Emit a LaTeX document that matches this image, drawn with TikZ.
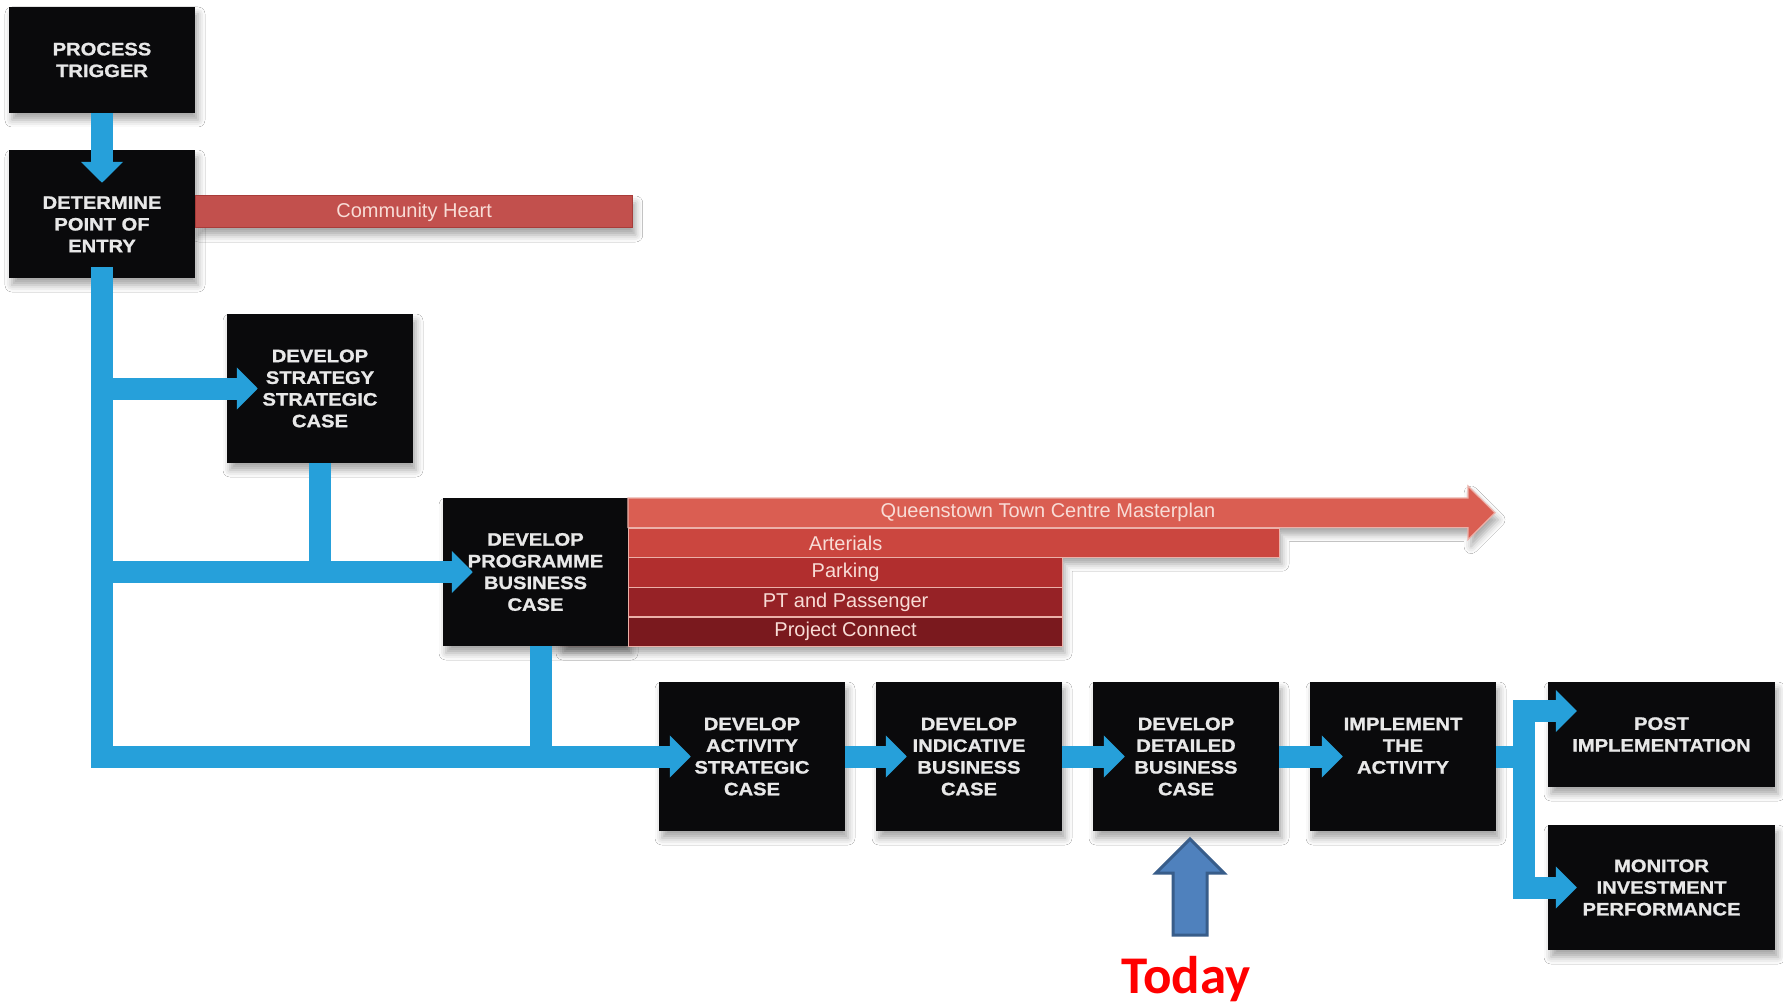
\documentclass[tikz,border=0pt]{standalone}
\usepackage{fontspec}
\setmainfont{Liberation Sans}
\newfontfamily\stagefont{Liberation Sans}[UprightFont={* Bold}, FakeStretch=1.12, FakeBold=1.2]
\newfontfamily\todayfont{Carlito}
\usetikzlibrary{arrows.meta,calc,shadows.blur}

\definecolor{flow}{RGB}{38,160,218}
\definecolor{boxfill}{RGB}{10,10,12}
\definecolor{boxtext}{RGB}{232,232,232}
\definecolor{heart}{RGB}{194,80,77}
\definecolor{heartedge}{RGB}{168,60,58}
\definecolor{qtc}{RGB}{218,94,82}
\definecolor{art}{RGB}{203,70,63}
\definecolor{park}{RGB}{177,46,46}
\definecolor{ptp}{RGB}{150,34,38}
\definecolor{pconn}{RGB}{122,25,30}
\definecolor{barsep}{RGB}{236,176,168}
\definecolor{bartext}{RGB}{248,220,214}
\definecolor{todayfill}{RGB}{79,129,189}
\definecolor{todayline}{RGB}{56,93,138}

\tikzset{
  softshadow/.style={blur shadow={shadow xshift=3pt, shadow yshift=-7pt,
      shadow blur radius=7pt, shadow opacity=35}},
  stage/.style={fill=boxfill, inner sep=0pt, align=center, text=boxtext,
      minimum width=186pt, minimum height=149pt, softshadow,
      font=\stagefont\fontsize{18}{21.7}\selectfont},
  flowline/.style={draw=flow, line width=22pt, line join=miter},
  flowarrow/.style={flowline, -{Triangle[width=41pt,length=21pt]}},
  bar/.style={inner sep=0pt, anchor=north west, minimum height=29.6pt,
      draw=barsep, line width=1.2pt},
  bartxt/.style={text=bartext, inner sep=0pt, font=\fontsize{20}{24}\selectfont},
}

\begin{document}
\begin{tikzpicture}[x=1pt, y=-1pt]
\useasboundingbox (0,0) rectangle (1783,1003);
\fill[white] (0,0) rectangle (1783,1003);

% shadow under the stacked project bars (its left part hides behind the box)
\fill[qtc, softshadow] (560,498) -- (1468,498) -- (1468,486) -- (1495,512.8)
  -- (1468,539.6) -- (1468,527.6) -- (1279,527.6) -- (1279,557.2)
  -- (1062,557.2) -- (1062,646) -- (560,646) -- cycle;

% ---- process stages ----
\node[stage, minimum height=106pt] (trig) at (102,60) {PROCESS\\TRIGGER};
\node[stage, minimum height=128pt] (det) at (102,214)
  {\rule{0pt}{33pt}DETERMINE\\POINT OF\\ENTRY};
\node[stage] (strat) at (320,388.5) {DEVELOP\\STRATEGY\\STRATEGIC\\CASE};
\node[stage, minimum width=185pt, minimum height=148pt] (prog) at (535.5,572)
  {DEVELOP\\PROGRAMME\\BUSINESS\\CASE};
\node[stage] (b1) at (752,756.5) {DEVELOP\\ACTIVITY\\STRATEGIC\\CASE};
\node[stage] (b2) at (969,756.5) {DEVELOP\\INDICATIVE\\BUSINESS\\CASE};
\node[stage] (b3) at (1186,756.5) {DEVELOP\\DETAILED\\BUSINESS\\CASE};
\node[stage] (b4) at (1403,756.5) {IMPLEMENT\\THE\\ACTIVITY\\\mbox{}};
\node[stage, minimum width=227pt, minimum height=105pt] (post) at (1661.5,734.5)
  {POST\\IMPLEMENTATION};
\node[stage, minimum width=227pt, minimum height=125pt] (mon) at (1661.5,887.5)
  {MONITOR\\INVESTMENT\\PERFORMANCE};

% ---- project bars ----
\node[fill=heart, draw=heartedge, line width=1pt, inner sep=0pt, anchor=west,
  minimum width=437pt, minimum height=32pt, softshadow]
  (heartbar) at ($(det.east)+(0,-2)$) {};
\node[bartxt] (heart-t) at (heartbar) {Community Heart};

\draw[fill=qtc, draw=barsep, line width=1.2pt] (628,498) -- (1468,498) -- (1468,486)
  -- (1495,512.8) -- (1468,539.6) -- (1468,527.6) -- (628,527.6) -- cycle;
\node[bar, fill=art, minimum width=651pt] (art) at (628,527.6) {};
\node[bar, fill=park, minimum width=434pt] (park) at (628,557.2) {};
\node[bar, fill=ptp, minimum width=434pt] (pt) at (628,586.8) {};
\node[bar, fill=pconn, minimum width=434pt] (pc) at (628,616.4) {};

\node[bartxt] (qtc-t) at (1048,512.8) {Queenstown Town Centre Masterplan};
\node[bartxt] (art-t) at (park.center |- art.center) {Arterials};
\node[bartxt] (park-t) at (park.center) {Parking};
\node[bartxt] (pt-t) at (pt.center) {PT and Passenger};
\node[bartxt] (pc-t) at (pc.center) {Project Connect};

% ---- flow connectors ----
\draw[flowarrow] (trig.south) -- ($(det.north)+(0,33)$);
\draw[flowarrow] ($(det.south)+(0,-11)$) |- ($(b1.west)+(32,0)$);
\draw[flowarrow] (det.south |- strat.west) -- ($(strat.west)+(31,0)$);
\draw[flowline] (strat.south) -- (strat.south |- prog.west);
\draw[flowarrow] (det.south |- prog.west) -- ($(prog.west)+(30,0)$);
\coordinate (pdrop) at ($(prog.south)+(5,0)$);
\draw[flowline] (pdrop) -- (pdrop |- b1.west);
\draw[flowarrow] (b1.east) -- ($(b2.west)+(31,0)$);
\draw[flowarrow] (b2.east) -- ($(b3.west)+(32,0)$);
\draw[flowarrow] (b3.east) -- ($(b4.west)+(33,0)$);
\coordinate (split) at ($(b4.east)+(28,0)$);
\draw[flowline] (b4.east) -- (split);
\draw[flowarrow] (split) |- ($(post.west)+(29,-23.5)$);
\draw[flowarrow] (split) |- ($(mon.west)+(29,0)$);

% ---- current position marker ----
\draw[todayline, fill=todayfill, line width=3pt, line join=miter]
  (1190,839) -- (1224,873) -- (1207,873) -- (1207,935) -- (1173,935)
  -- (1173,873) -- (1156,873) -- cycle;
\node[font=\todayfont\bfseries\fontsize{53}{60}\selectfont, text=red,
  anchor=base, inner sep=0pt] (today) at (1186,993) {Today};
\end{tikzpicture}
\end{document}
